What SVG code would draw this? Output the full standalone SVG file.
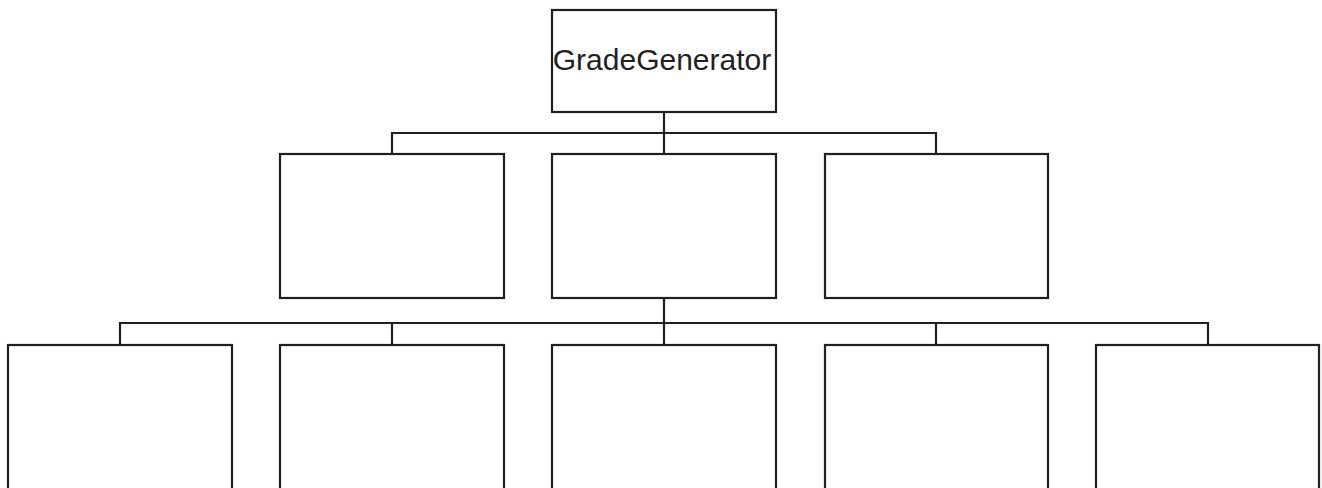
<svg xmlns="http://www.w3.org/2000/svg" width="1322" height="488" viewBox="0 0 1322 488">
<style>
.box{fill:#ffffff;stroke:#231f20;stroke-width:2.2}
.conn{fill:none;stroke:#231f20;stroke-width:2.2}
.lbl{font-family:"Liberation Sans",Arial,sans-serif;font-size:30px;fill:#231f20}
</style>
<rect width="1322" height="488" fill="#ffffff"/>
<g id="connectors">
<path class="conn" d="M664 112V154M392 154V133H936V154"/>
<path class="conn" d="M664 298V345M120 345V323H1208V345M392 323V345M936 323V345"/>
</g>
<g id="gradegenerator">
<rect class="box" x="552" y="10" width="224" height="102"/>
<text class="lbl" x="662" y="70" text-anchor="middle">GradeGenerator</text>
</g>
<g id="mid1"><rect class="box" x="280" y="154" width="224" height="144"/></g>
<g id="mid2"><rect class="box" x="552" y="154" width="224" height="144"/></g>
<g id="mid3"><rect class="box" x="825" y="154" width="223" height="144"/></g>
<g id="bot1"><rect class="box" x="8" y="345" width="224" height="150"/></g>
<g id="bot2"><rect class="box" x="280" y="345" width="224" height="150"/></g>
<g id="bot3"><rect class="box" x="552" y="345" width="224" height="150"/></g>
<g id="bot4"><rect class="box" x="825" y="345" width="223" height="150"/></g>
<g id="bot5"><rect class="box" x="1096" y="345" width="223" height="150"/></g>
</svg>
